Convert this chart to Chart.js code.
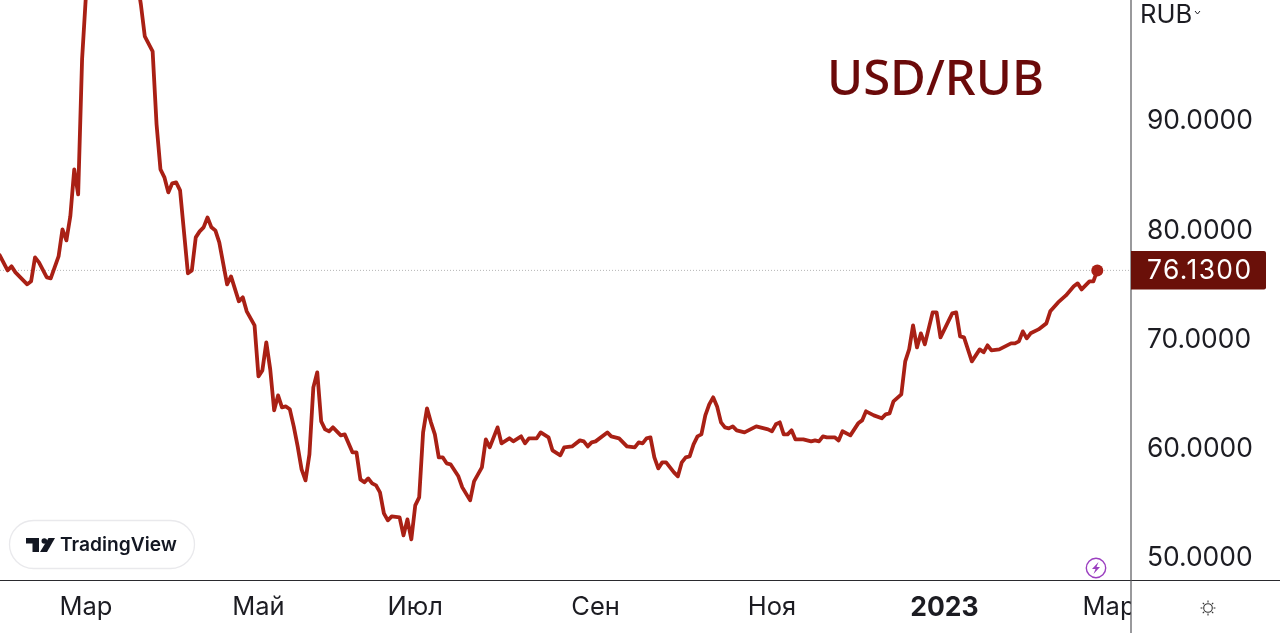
<!DOCTYPE html>
<html><head><meta charset="utf-8">
<style>html,body{margin:0;padding:0;background:#fff;overflow:hidden}canvas{display:block}</style>
<script src="https://cdn.jsdelivr.net/npm/chart.js@4"></script></head>
<body><canvas id="c" width="1280" height="633"></canvas>
<script>
const sessions=[-22,-20,-19,-18,-15,-14,-13,-12,-10,-9,-7,-6,-5,-4,-3,-2,-1,0,1,3,6,9,11,13,14,15,17,18,19,20,21,22,23,24,26,27,28,29,30,31,32,33,34,36,37,39,40,41,43,44,45,46,47,48,49,50,51,52,53,54,55,56,57,58,59,60,61,62,63,65,66,68,69,70,71,72,73,74,75,76,77,78,80,81,82,83,84,85,86,87,88,89,90,91,92,93,95,96,98,99,101,102,103,105,106,108,109,111,112,113,115,116,118,119,121,122,124,126,127,128,129,130,133,134,136,138,140,141,142,143,144,145,146,147,148,150,151,152,153,154,155,156,157,158,159,160,161,162,163,164,165,166,168,171,173,174,175,176,177,178,179,180,181,183,185,186,187,188,189,191,192,193,195,197,198,199,201,203,204,205,206,208,209,210,211,212,213,214,216,217,218,220,221,222,223,224,226,228,229,230,231,233,234,236,237,238,239,240,241,243,245,246,248,250,252,253,254,256,257,258];
const rates=[77.51,76.13,76.5,75.95,74.85,75.13,77.32,76.86,75.49,75.4,77.41,79.89,78.88,81.08,85.38,83.09,95.45,101.4,116,130,122,120,113,102.77,100.48,97.55,96.18,89.5,85.38,84.65,83.27,84.1,84.19,83.46,75.86,76.13,79.15,79.7,80.07,80.98,80.07,79.79,78.7,74.85,75.58,73.3,73.66,72.38,71.1,66.43,66.98,69.54,67.07,63.32,64.69,63.59,63.68,63.41,61.85,60.02,57.92,56.91,59.29,65.42,66.8,62.31,61.58,61.4,61.76,61.03,61.12,59.47,59.47,57,56.73,57.09,56.64,56.45,55.81,53.89,53.25,53.62,53.52,51.88,53.34,51.51,54.62,55.35,61.3,63.5,62.22,61.12,59.02,59.02,58.47,58.38,57.28,56.27,55.08,56.82,58.1,60.66,59.93,61.76,60.3,60.76,60.48,60.94,60.3,60.76,60.76,61.3,60.85,59.66,59.2,59.93,60.02,60.57,60.48,60.02,60.39,60.48,61.3,60.94,60.76,60.02,59.93,60.39,60.3,60.76,60.85,59.02,58.01,58.56,58.56,57.64,57.28,58.56,59.02,59.11,60.21,60.94,61.12,62.86,63.87,64.51,63.68,62.22,61.76,61.67,61.85,61.49,61.3,61.85,61.67,61.58,61.4,62.04,62.22,61.12,61.12,61.49,60.66,60.66,60.48,60.57,60.48,60.94,60.85,60.85,60.57,61.4,61.03,62.13,62.4,63.23,62.86,62.59,62.95,63.04,64.14,64.78,67.8,68.9,71.1,69.08,70.37,69.36,72.29,72.29,70,71.46,72.2,72.29,70.09,70,67.8,68.9,68.63,69.27,68.81,68.9,69.08,69.45,69.45,69.63,70.55,69.91,70.37,70.73,71.28,72.38,73.2,73.84,74.67,74.94,74.39,75.13,75.13,76.13];
const tickSessions=[0,44,84,130,175,219,261];
const tickLabels=['Мар','Май','Июл','Сен','Ноя','2023','Мар'];
const priceTicks=[50,60,70,80,90];
const lastRate=76.13;
const pairName='USD/RUB';
const currency='RUB';
const brand='TradingView';

const XMIN=-21.94,XMAX=266.6,INK='#1c1c22',LINE='#a92015',DARK='#6a1009';
const noPad=s=>{s.paddingTop=0;s.paddingBottom=0;s.paddingLeft=0;s.paddingRight=0};
const chrome={id:'chrome',afterDraw(ch){
  const c=ch.ctx,y=ch.scales.y;
  c.save();
  c.fillStyle='#fff';c.fillRect(1131,581,149,52);
  c.strokeStyle='#2a2a2e';c.lineWidth=1.2;
  c.beginPath();c.moveTo(0,580.5);c.lineTo(1280,580.5);c.stroke();
  c.strokeStyle='#55555a';
  c.beginPath();c.moveTo(1131,0);c.lineTo(1131,633);c.stroke();
  c.fillStyle='#6b0a0a';c.font='500 49px "Noto Sans"';c.textBaseline='alphabetic';c.textAlign='left';
  c.fillText(pairName,827,95);
  c.fillStyle=INK;c.font='25.6px Inter';c.fillText(currency,1140,23);
  c.strokeStyle=INK;c.lineWidth=1;c.beginPath();c.moveTo(1195,11);c.lineTo(1197.5,14);c.lineTo(1200,11);c.stroke();
  const py=y.getPixelForValue(lastRate);
  c.fillStyle=DARK;c.beginPath();c.roundRect(1131,py-19.5,135,38.5,[0,2,2,0]);c.fill();
  c.fillStyle='#fff';c.font='26.4px Inter';c.textBaseline='middle';
  c.letterSpacing='1.4px';
  c.fillText(lastRate.toFixed(4),1147,py+1);
  c.letterSpacing='0px';
  c.fillStyle='#fff';c.strokeStyle='#e9e9ec';c.lineWidth=1.3;
  c.beginPath();c.roundRect(9.5,520.5,185,48,24);c.fill();c.stroke();
  c.fillStyle='#131722';
  c.fillRect(26,538,13,5.5);c.fillRect(32.5,538,6.5,14);
  c.beginPath();c.arc(44.3,541,2.8,0,7);c.fill();
  c.beginPath();c.moveTo(48.5,538);c.lineTo(55,538);c.lineTo(47,552);c.lineTo(40,552);c.closePath();c.fill();
  c.font='600 19.2px Inter';c.textBaseline='middle';c.fillText(brand,60,545.5);
  c.strokeStyle='#9b3fc0';c.lineWidth=1.4;c.beginPath();c.arc(1096,568,9.7,0,7);c.stroke();
  c.fillStyle='#9b3fc0';c.beginPath();c.moveTo(1098.5,562);c.lineTo(1092,569);c.lineTo(1095.5,569);c.lineTo(1093.5,574);c.lineTo(1100,567);c.lineTo(1096.5,567);c.closePath();c.fill();
  c.strokeStyle='#333';c.lineWidth=1.1;c.beginPath();c.arc(1208,608,4.3,0,7);c.stroke();
  for(let k=0;k<8;k++){const a=k*Math.PI/4;c.beginPath();c.moveTo(1208+Math.cos(a)*5.6,608+Math.sin(a)*5.6);c.lineTo(1208+Math.cos(a)*7.4,608+Math.sin(a)*7.4);c.stroke();}
  c.restore();
}};
new Chart(document.getElementById('c'),{
  type:'line',
  data:{datasets:[
    {data:sessions.map((s,i)=>({x:s,y:rates[i]})),borderColor:LINE,borderWidth:3.8,tension:0,
     borderJoinStyle:'round',borderCapStyle:'round',backgroundColor:LINE,
     pointRadius:ctx=>ctx.dataIndex===sessions.length-1?6:0,pointBackgroundColor:LINE,pointBorderWidth:0,pointHoverRadius:0,order:1},
    {data:[{x:XMIN,y:lastRate},{x:XMAX,y:lastRate}],borderColor:'#b5b5b5',borderWidth:1,borderDash:[1,2],pointRadius:0,order:2}
  ]},
  options:{
    responsive:false,animation:false,devicePixelRatio:1,
    layout:{padding:0,autoPadding:false},
    plugins:{legend:{display:false},tooltip:{enabled:false},title:{display:false}},
    events:[],
    scales:{
      x:{type:'linear',min:XMIN,max:XMAX,position:'bottom',
        afterFit(s){s.height=53;noPad(s)},
        afterBuildTicks(s){s.ticks=tickSessions.map(v=>({value:v}))},
        grid:{display:false,drawTicks:false},border:{display:false},
        ticks:{autoSkip:false,maxRotation:0,minRotation:0,padding:12,color:INK,
          callback(v){return tickLabels[tickSessions.indexOf(v)]},
          font:ctx=>{const l=ctx.tick&&tickLabels[tickSessions.indexOf(ctx.tick.value)];return l==='2023'?{family:'Inter',size:26.5,weight:'700'}:{family:'Inter',size:25.5,weight:'400'}}}},
      y:{position:'right',min:47.79,max:100.88,
        afterFit(s){s.width=149;noPad(s)},
        afterBuildTicks(s){s.ticks=priceTicks.map(v=>({value:v}))},
        grid:{display:false,drawTicks:false},border:{display:false},
        ticks:{padding:16,labelOffset:2.5,color:INK,font:{family:'Inter',size:26.4},callback:v=>v.toFixed(4)}}
    }
  },
  plugins:[chrome]
});
</script></body></html>
